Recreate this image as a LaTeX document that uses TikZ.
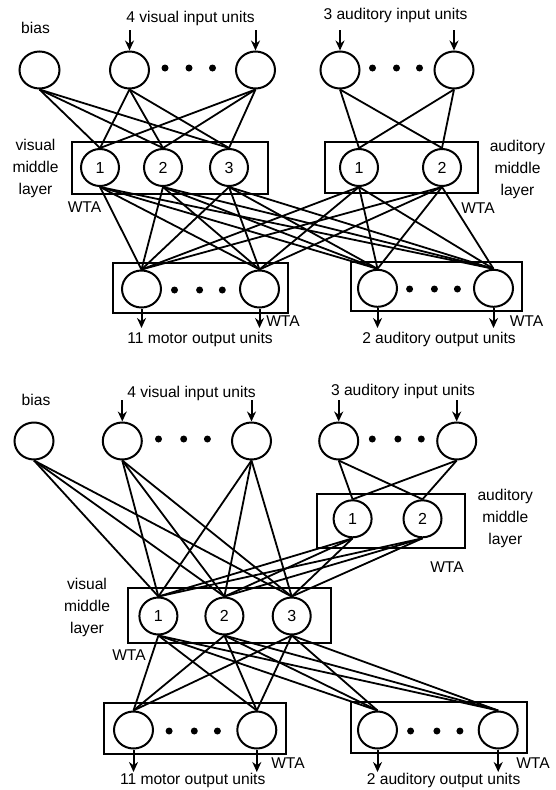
\documentclass[tikz,border=0pt]{standalone}
\usepackage{fontspec}
\setmainfont{Liberation Sans}
\usetikzlibrary{arrows.meta,shapes.geometric}
\newcommand\mylbl{\fontsize{15.6pt}{18pt}\selectfont}
\begin{document}
\begin{tikzpicture}[x=1pt,y=-1pt,
  unit/.style={ellipse, draw, line width=2pt, minimum width=39pt, minimum height=37pt, inner sep=0pt, font=\fontsize{16pt}{18pt}\selectfont},
  layerbox/.style={draw, line width=2pt, inner sep=0pt},
  wire/.style={line width=1.8pt},
  inarrow/.style={line width=2pt, -{Stealth[length=10pt,width=9pt]}},
  bigdot/.style={circle, fill, inner sep=0pt, minimum size=7pt},
  txt/.style={font=\mylbl, inner sep=0pt},
  ml/.style={font=\fontsize{15.6pt}{22pt}\selectfont, align=center, inner sep=0pt}
]
\useasboundingbox (0,0) rectangle (555,790);
\fill[white] (0,0) rectangle (555,790);

% ================= TOP PANEL =================
\node[txt] (tbias) at (35.5,28) {bias};
\node[txt] (tvin) at (190.5,18) {4 visual input units};
\node[txt] (tain) at (395.5,15) {3 auditory input units};

\node[unit, minimum width=40pt] (Tb) at (39.5,70) {};
\node[unit] (Tv1) at (129.5,70) {};
\node[unit] (Tv4) at (255.5,70) {};
\node[unit] (Ta1) at (340,70) {};
\node[unit] (Ta2) at (454,70) {};
\node[bigdot] (Td1) at (165,68) {};
\node[bigdot] (Td2) at (189,68) {};
\node[bigdot] (Td3) at (212.5,68) {};
\node[bigdot] (Td4) at (372.5,68) {};
\node[bigdot] (Td5) at (396.5,68) {};
\node[bigdot] (Td6) at (419.5,68) {};

\coordinate (Tiv1) at (129.5,30);
\coordinate (Tiv4) at (255.5,30);
\coordinate (Tia1) at (340,30);
\coordinate (Tia2) at (454,30);
\draw[inarrow] (Tiv1) -- (Tv1.north);
\draw[inarrow] (Tiv4) -- (Tv4.north);
\draw[inarrow] (Tia1) -- (Ta1.north);
\draw[inarrow] (Tia2) -- (Ta2.north);

\node[layerbox, minimum width=196pt, minimum height=52.3pt] (TVbox) at (169.7,167.85) {};
\node[unit, minimum width=38pt] (Tm1) at (100,167.5) {1};
\node[unit, minimum width=38pt] (Tm2) at (163,167.5) {2};
\node[unit, minimum width=38pt] (Tm3) at (229,167.5) {3};
\node[layerbox, minimum width=152.7pt, minimum height=51.6pt] (TAbox) at (401.35,167.5) {};
\node[unit, minimum width=38pt] (Tn1) at (359,167.5) {1};
\node[unit, minimum width=38pt] (Tn2) at (442,167.5) {2};

\node[ml] (tvml) at (35.5,168) {visual\\middle\\layer};
\node[ml] (taml) at (517.5,169.3) {auditory\\middle\\layer};
\node[txt] (twta1) at (84.5,206.7) {WTA};
\node[txt] (twta2) at (478,208) {WTA};

\foreach \s in {Tb,Tv1,Tv4}
  \foreach \t in {Tm1,Tm2,Tm3}
    \draw[wire] (\s.south) -- (\t.north);
\foreach \s in {Ta1,Ta2}
  \foreach \t in {Tn1,Tn2}
    \draw[wire] (\s.south) -- (\t.north);

\node[layerbox, minimum width=175.2pt, minimum height=49.4pt] (TMbox) at (200.4,288) {};
\node[unit] (To1) at (141.5,289) {};
\node[unit] (To2) at (259.5,289) {};
\node[bigdot] (Te1) at (174.5,290) {};
\node[bigdot] (Te2) at (199.6,290) {};
\node[bigdot] (Te3) at (222.3,290) {};
\node[layerbox, minimum width=171.3pt, minimum height=49.3pt] (TObox) at (436.65,286.35) {};
\node[unit] (Tp1) at (377.5,288.3) {};
\node[unit] (Tp2) at (493.5,288.3) {};
\node[bigdot] (Te4) at (409.6,289) {};
\node[bigdot] (Te5) at (434.4,289) {};
\node[bigdot] (Te6) at (457.4,289) {};

\foreach \s in {Tm1,Tm2,Tm3,Tn1,Tn2}
  \foreach \t in {To1,To2,Tp1,Tp2}
    \draw[wire] (\s.south) -- (\t.north);

\coordinate (Tz1) at (141.5,328);
\coordinate (Tz2) at (259.5,328);
\coordinate (Tz3) at (377.5,328);
\coordinate (Tz4) at (493.5,328);
\draw[inarrow] (To1.south) -- (Tz1);
\draw[inarrow] (To2.south) -- (Tz2);
\draw[inarrow] (Tp1.south) -- (Tz3);
\draw[inarrow] (Tp2.south) -- (Tz4);

\node[txt] (twta3) at (283,321) {WTA};
\node[txt] (twta4) at (526.5,321) {WTA};
\node[txt] (tmot) at (200,339) {11 motor output units};
\node[txt] (taud) at (439,339) {2 auditory output units};

% ================= BOTTOM PANEL =================
\node[txt] (bbias) at (36,400) {bias};
\node[txt] (bvin) at (191.5,393) {4 visual input units};
\node[txt] (bain) at (403,391) {3 auditory input units};

\node[unit] (Bb) at (34,441) {};
\node[unit] (Bv1) at (122.3,441) {};
\node[unit] (Bv4) at (251.5,441) {};
\node[unit] (Ba1) at (338.7,441) {};
\node[unit] (Ba2) at (456.7,441) {};
\node[bigdot] (Bd1) at (158.5,439) {};
\node[bigdot] (Bd2) at (183.7,439) {};
\node[bigdot] (Bd3) at (207.4,439) {};
\node[bigdot] (Bd4) at (372.3,439) {};
\node[bigdot] (Bd5) at (397.9,439) {};
\node[bigdot] (Bd6) at (421.3,439) {};

\coordinate (Biv1) at (122.3,400);
\coordinate (Biv4) at (251.5,400);
\coordinate (Bia1) at (338.7,400);
\coordinate (Bia2) at (456.7,400);
\draw[inarrow] (Biv1) -- (Bv1.north);
\draw[inarrow] (Biv4) -- (Bv4.north);
\draw[inarrow] (Bia1) -- (Ba1.north);
\draw[inarrow] (Bia2) -- (Ba2.north);

\node[layerbox, minimum width=147.5pt, minimum height=53.2pt] (BAbox) at (390.75,520.9) {};
\node[unit, minimum width=38pt] (Bn1) at (352.6,518.8) {1};
\node[unit, minimum width=38pt] (Bn2) at (422.5,518.8) {2};
\node[ml] (baml) at (505.3,518.3) {auditory\\middle\\layer};
\node[txt] (bwta1) at (447,567) {WTA};

\node[layerbox, minimum width=202.8pt, minimum height=54.7pt] (BVbox) at (229.8,615.65) {};
\node[unit, minimum width=38pt] (Bm1) at (158.4,616) {1};
\node[unit, minimum width=38pt] (Bm2) at (224.4,616) {2};
\node[unit, minimum width=38pt] (Bm3) at (291.7,616) {3};
\node[ml] (bvml) at (87,607.3) {visual\\middle\\layer};
\node[txt] (bwta2) at (129,655) {WTA};

\foreach \s in {Bb,Bv1,Bv4,Bn1,Bn2}
  \foreach \t in {Bm1,Bm2,Bm3}
    \draw[wire] (\s.south) -- (\t.north);
\foreach \s in {Ba1,Ba2}
  \foreach \t in {Bn1,Bn2}
    \draw[wire] (\s.south) -- (\t.north);

\node[layerbox, minimum width=182.4pt, minimum height=51.3pt] (BMbox) at (194.8,728.65) {};
\node[unit] (Bo1) at (133.5,730) {};
\node[unit] (Bo2) at (256.8,730) {};
\node[bigdot] (Be1) at (169.1,731) {};
\node[bigdot] (Be2) at (194.3,731) {};
\node[bigdot] (Be3) at (217.4,731) {};
\node[layerbox, minimum width=176.8pt, minimum height=51pt] (BObox) at (438.9,727.2) {};
\node[unit] (Bp1) at (377.5,730) {};
\node[unit] (Bp2) at (498.2,730) {};
\node[bigdot] (Be4) at (410.6,731) {};
\node[bigdot] (Be5) at (436.9,731) {};
\node[bigdot] (Be6) at (459.9,731) {};

\foreach \s in {Bm1,Bm2,Bm3}
  \foreach \t in {Bo1,Bo2,Bp1,Bp2}
    \draw[wire] (\s.south) -- (\t.north);

\coordinate (Bz1) at (133.5,772);
\coordinate (Bz2) at (256.8,772);
\coordinate (Bz3) at (377.5,772);
\coordinate (Bz4) at (498.2,772);
\draw[inarrow] (Bo1.south) -- (Bz1);
\draw[inarrow] (Bo2.south) -- (Bz2);
\draw[inarrow] (Bp1.south) -- (Bz3);
\draw[inarrow] (Bp2.south) -- (Bz4);

\node[txt] (bwta3) at (288,762.7) {WTA};
\node[txt] (bwta4) at (533,762.7) {WTA};
\node[txt] (bmot) at (192.7,780) {11 motor output units};
\node[txt] (baud) at (443.6,780) {2 auditory output units};
\end{tikzpicture}
\end{document}
